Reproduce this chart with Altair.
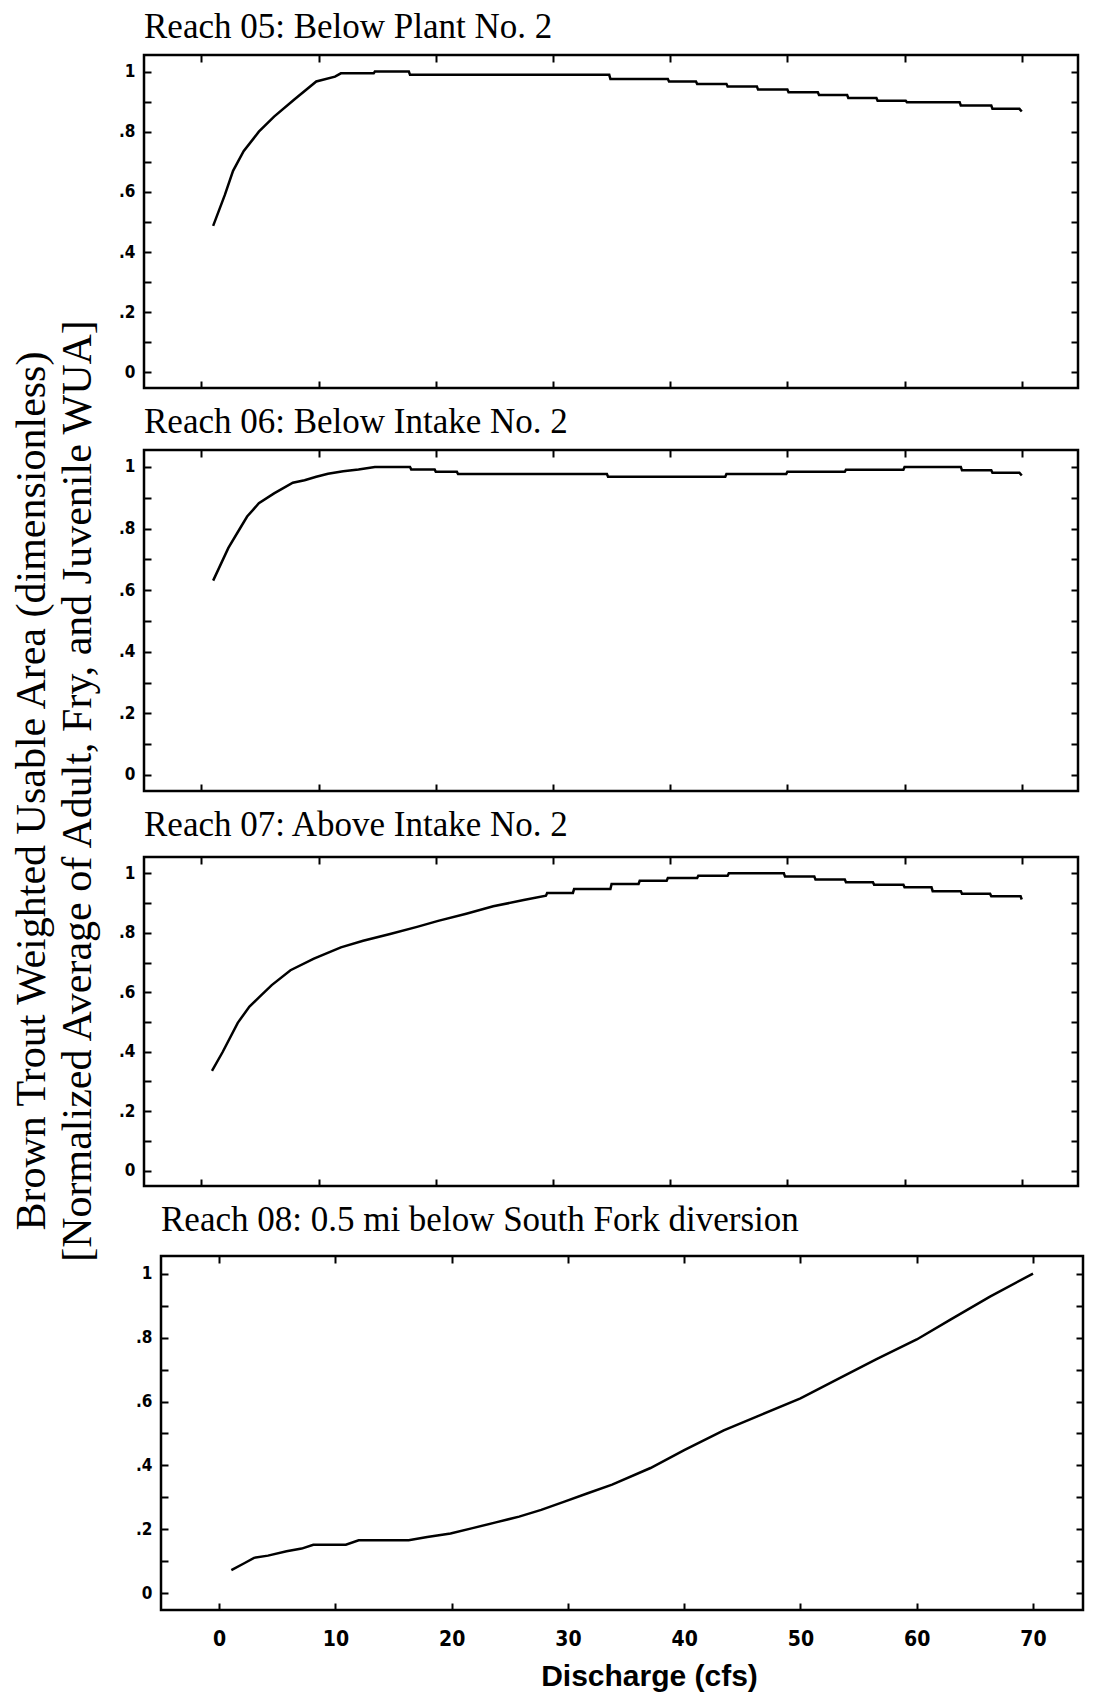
import altair as alt
import pandas as pd

# ---------------- data ----------------
x05 = [1.0, 2.0, 2.7, 3.6, 4.9, 6.2, 7.9, 9.8, 11.4, 11.9, 14.7, 14.8, 17.7, 17.8, 34.8, 34.9,
       39.8, 39.9, 42.2, 42.3, 44.8, 44.9, 47.4, 47.5, 50.0, 50.1, 52.6, 52.7, 55.1, 55.2,
       57.6, 57.7, 60.1, 60.2, 64.7, 64.8, 67.4, 67.5, 69.8, 70.0]
y05 = [0.487, 0.590, 0.670, 0.735, 0.800, 0.850, 0.906, 0.967, 0.983, 0.994, 0.994, 1.0, 1.0,
       0.989, 0.989, 0.975, 0.975, 0.967, 0.967, 0.959, 0.959, 0.950, 0.950, 0.940, 0.940,
       0.931, 0.931, 0.922, 0.922, 0.912, 0.912, 0.903, 0.903, 0.898, 0.898, 0.887, 0.887,
       0.876, 0.876, 0.867]

x06 = [1.0, 2.3, 3.3, 3.9, 4.9, 6.2, 7.8, 8.8, 9.8, 10.8, 12.1, 13.4, 14.8, 17.8, 17.9, 19.9,
       20.0, 21.8, 21.9, 34.6, 34.7, 44.7, 44.8, 49.9, 50.0, 54.9, 55.0, 59.9, 60.0, 64.8,
       64.9, 67.4, 67.5, 69.8, 70.0]
y06 = [0.631, 0.737, 0.801, 0.839, 0.882, 0.914, 0.949, 0.957, 0.968, 0.978, 0.986, 0.992, 1.0,
       1.0, 0.992, 0.992, 0.984, 0.984, 0.977, 0.977, 0.968, 0.968, 0.977, 0.977, 0.984,
       0.984, 0.991, 0.991, 1.0, 1.0, 0.989, 0.989, 0.981, 0.981, 0.972]

x07 = [0.9, 1.8, 3.1, 4.1, 5.0, 6.0, 7.6, 9.6, 11.9, 13.8, 16.1, 18.4, 20.2, 22.6, 24.9, 27.5,
       29.4, 29.5, 31.7, 31.8, 34.9, 35.0, 37.3, 37.4, 39.7, 39.8, 42.3, 42.4, 44.9, 45.0,
       49.7, 49.8, 52.3, 52.4, 54.9, 55.0, 57.3, 57.4, 59.9, 60.0, 62.3, 62.4, 64.8, 64.9,
       67.3, 67.4, 69.9, 70.0]
y07 = [0.335, 0.398, 0.497, 0.552, 0.586, 0.624, 0.674, 0.713, 0.751, 0.773, 0.796, 0.820,
       0.840, 0.864, 0.889, 0.910, 0.925, 0.934, 0.934, 0.947, 0.947, 0.964, 0.964, 0.975,
       0.975, 0.984, 0.984, 0.992, 0.992, 1.0, 1.0, 0.989, 0.989, 0.979, 0.979, 0.970, 0.970,
       0.962, 0.962, 0.953, 0.953, 0.940, 0.940, 0.931, 0.931, 0.923, 0.923, 0.912]

x08 = [1.05, 2.2, 3.0, 4.2, 5.8, 7.1, 8.1, 10.9, 12.0, 16.3, 17.9, 19.9, 21.8, 23.8, 25.8, 27.7,
       29.7, 31.7, 33.8, 37.1, 40.0, 43.4, 46.7, 50.0, 53.2, 56.5, 60.0, 62.9, 66.3, 70.0]
y08 = [0.073, 0.095, 0.111, 0.118, 0.132, 0.140, 0.152, 0.152, 0.166, 0.166, 0.176, 0.187,
       0.204, 0.222, 0.240, 0.261, 0.287, 0.313, 0.340, 0.392, 0.448, 0.510, 0.560, 0.610,
       0.670, 0.732, 0.794, 0.856, 0.928, 1.0]

panel_titles = ["Reach 05: Below Plant No. 2",
                "Reach 06: Below Intake No. 2",
                "Reach 07: Above Intake No. 2",
                "Reach 08: 0.5 mi below South Fork diversion"]
y_tick_values = [0.0, 0.1, 0.2, 0.3, 0.4, 0.5, 0.6, 0.7, 0.8, 0.9, 1.0]
x_tick_values = [0, 10, 20, 30, 40, 50, 60, 70]
y_title_lines = ["Brown Trout Weighted Usable Area (dimensionless)",
                 "[Normalized Average of Adult, Fry, and Juvenile WUA]"]
x_title = "Discharge (cfs)"

# ---------------- styling ----------------
X_DOMAIN_TOP = [-4.9, 74.8]
X_DOMAIN_BOTTOM = [-5.0, 74.3]
Y_DOMAIN = [-0.052, 1.055]
SERIF = "Liberation Serif, Times New Roman, serif"
NARROW = "Liberation Sans Narrow, DejaVu Sans Condensed, Arial Narrow, sans-serif"
SANS = "Liberation Sans, Arial, Helvetica, sans-serif"
TICK = 7
FRAME = alt.ViewBackground(stroke="black", strokeWidth=2.5)
NOFRAME = alt.ViewBackground(stroke="transparent")

Y_LABELS = ("round(datum.value*10) % 2 == 0 ? (datum.value < 0.01 ? '0' : "
            "(datum.value > 0.99 ? '1' : replace(format(datum.value, '.1f'), '0.', '.'))) : ''")


def panel(xs, ys, title, w, h, show_x, title_offset, x_domain):
    df = pd.DataFrame({"q": xs, "v": ys})
    base = alt.Chart(df)
    xsc = alt.Scale(domain=x_domain, nice=False, zero=False)
    ysc = alt.Scale(domain=Y_DOMAIN, nice=False, zero=False)
    tick_common = dict(domain=False, ticks=True, tickSize=TICK, tickWidth=2,
                       tickColor="black", offset=-TICK, grid=False)
    if show_x:
        bottom_axis = alt.Axis(orient="bottom", values=x_tick_values, labels=True,
                               labelFont=NARROW, labelFontWeight="bold", labelFontSize=21,
                               labelColor="black", labelPadding=18, labelFlush=False,
                               labelOverlap=False,
                               titleFont=SANS, titleFontWeight="bold", titleFontSize=30,
                               titleColor="black", titlePadding=12, titleX=488,
                               **tick_common)
        xenc = alt.X("q:Q", scale=xsc, axis=bottom_axis, title=x_title)
    else:
        bottom_axis = alt.Axis(orient="bottom", values=x_tick_values, labels=False,
                               **tick_common)
        xenc = alt.X("q:Q", scale=xsc, axis=bottom_axis, title=None)
    left_axis = alt.Axis(orient="left", values=y_tick_values, labelExpr=Y_LABELS,
                         labelFont=NARROW, labelFontWeight="bold", labelFontSize=17,
                         labelColor="black", labelPadding=9, labelOverlap=False,
                         labelFlush=False, **tick_common)
    top_axis = alt.Axis(orient="top", values=x_tick_values, labels=False, **tick_common)
    right_axis = alt.Axis(orient="right", values=y_tick_values, labels=False, **tick_common)

    line = base.mark_line(color="black", strokeWidth=2.5).encode(
        x=xenc,
        y=alt.Y("v:Q", scale=ysc, axis=left_axis, title=None),
    )
    ghost = base.mark_line(color="black", strokeOpacity=0).encode(
        x=alt.X("q:Q", scale=xsc, axis=top_axis, title=None),
        y=alt.Y("v:Q", scale=ysc, axis=right_axis, title=None),
    )
    return (alt.layer(line, ghost)
            .resolve_axis(x="independent", y="independent")
            .properties(width=w, height=h, view=FRAME,
                        title=alt.TitleParams(text=title, anchor="start", frame="group",
                                              font=SERIF, fontSize=35, fontWeight="normal",
                                              color="black", offset=title_offset)))


p1 = panel(x05, y05, panel_titles[0], 934, 333, False, 9, X_DOMAIN_TOP)
p2 = panel(x06, y06, panel_titles[1], 934, 341, False, 9, X_DOMAIN_TOP)
p3 = panel(x07, y07, panel_titles[2], 934, 329, False, 13, X_DOMAIN_TOP)
p4 = panel(x08, y08, panel_titles[3], 922, 354, True, 17, X_DOMAIN_BOTTOM)

spacer = (alt.Chart(pd.DataFrame({"a": [0]}))
          .mark_point(opacity=0)
          .properties(width=17, height=1, view=NOFRAME))

row4 = alt.hconcat(spacer, p4, spacing=0, bounds="flush")
rows = alt.vconcat(p1, p2, p3, row4, spacing=12)

ytitle_df = pd.DataFrame({"i": [0, 1], "line": y_title_lines})
ytitle = (alt.Chart(ytitle_df)
          .mark_text(angle=270, font=SERIF, fontSize=42, fontWeight="normal",
                     color="black", align="center", baseline="middle")
          .encode(x=alt.X("i:O", axis=None,
                          scale=alt.Scale(paddingInner=0, paddingOuter=0.08)),
                  y=alt.value(736),
                  text="line:N")
          .properties(width=92, height=1550, view=NOFRAME))

chart = (alt.hconcat(ytitle, rows, spacing=15)
         .properties(background="white",
                     padding={"left": 0, "top": 0, "right": 0, "bottom": 0}))

chart.save("out.html", embed_options={"renderer": "svg", "actions": False})
